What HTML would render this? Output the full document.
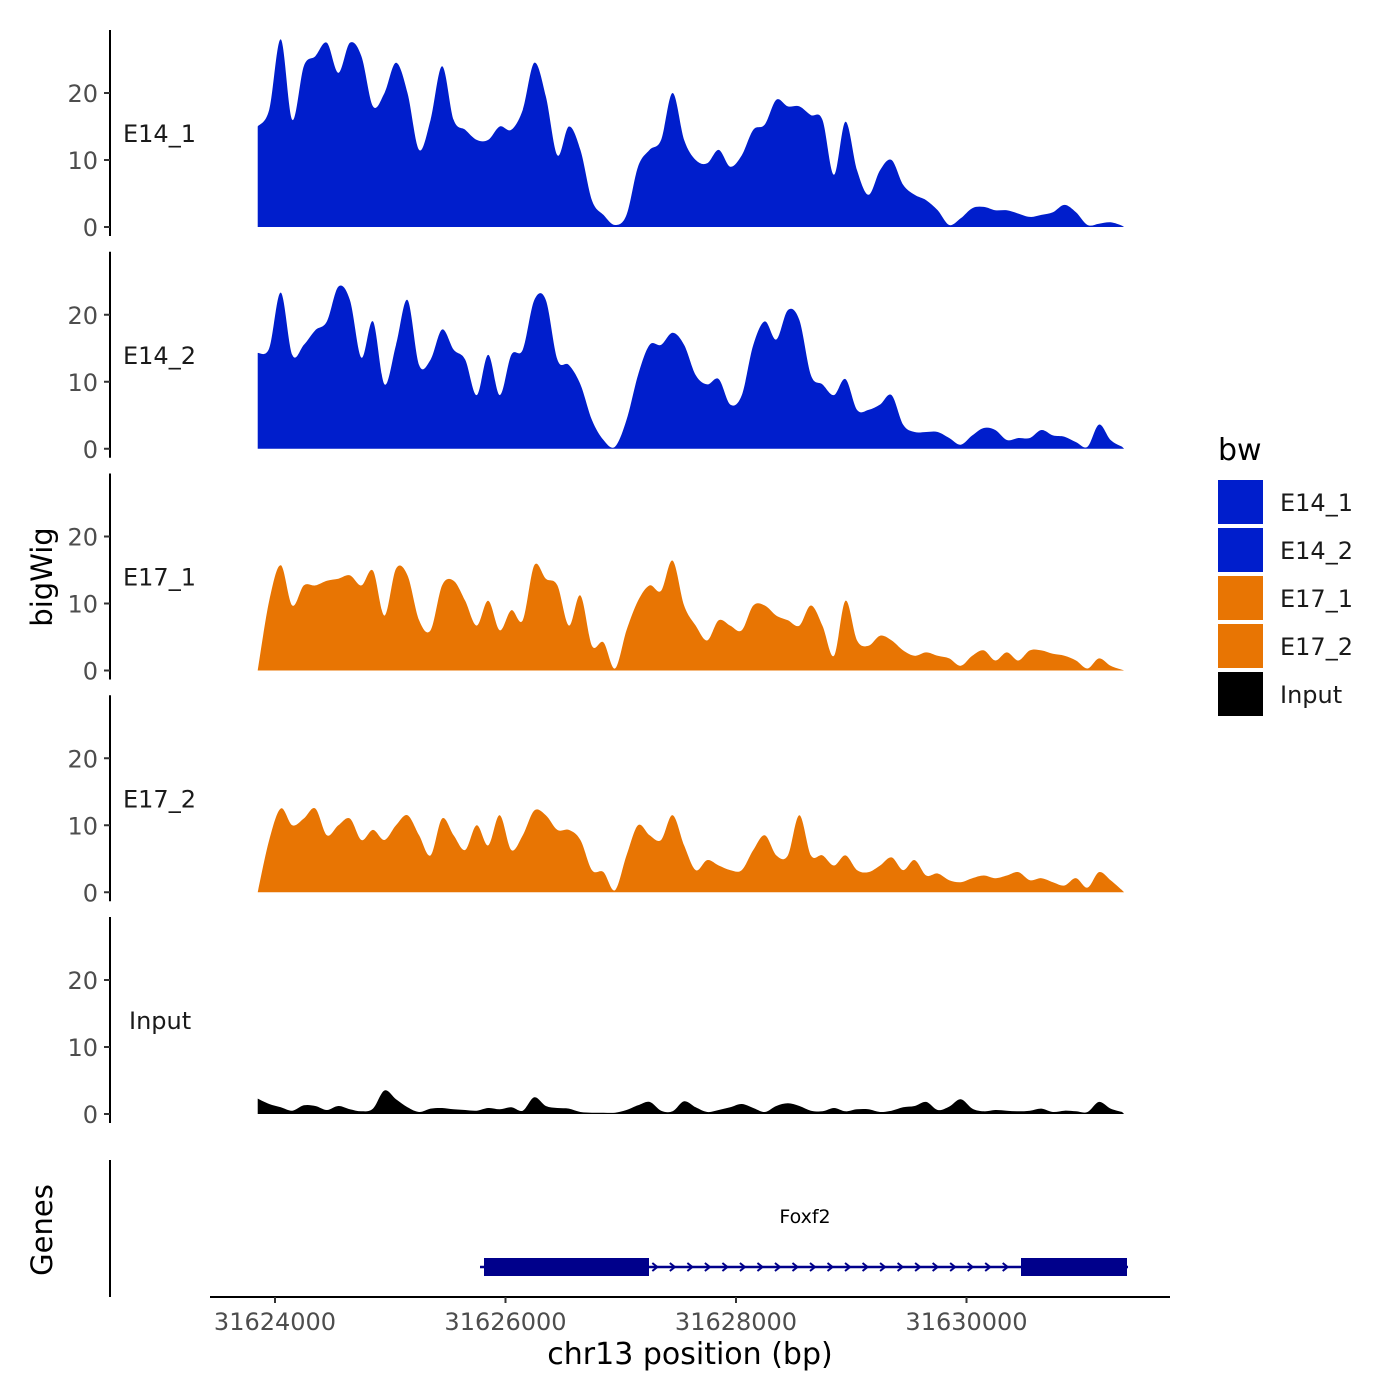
<!DOCTYPE html>
<html><head><meta charset="utf-8"><style>
body{margin:0;background:#fff}
svg{display:block;font-family:"DejaVu Sans","Liberation Sans",sans-serif}
</style></head><body>
<svg id="chart" width="1400" height="1400" viewBox="0 0 1400 1400">
<g id="panels"></g>
<g id="genes">
<line x1="110" y1="1160" x2="110" y2="1297" stroke="#000" stroke-width="2"/>
<text x="52" y="1230" font-size="29" text-anchor="middle" transform="rotate(-90 52 1230)">Genes</text>
<text x="805" y="1223" font-size="19" text-anchor="middle">Foxf2</text>
<line x1="480" y1="1267" x2="1128" y2="1267" stroke="#00008B" stroke-width="2.5"/>
<rect x="484" y="1258" width="165" height="18" fill="#00008B"/>
<rect x="1021" y="1258" width="106" height="18" fill="#00008B"/>
<g id="arrows"></g>
</g>
<g id="xaxis">
<line x1="210" y1="1297" x2="1170" y2="1297" stroke="#000" stroke-width="2"/>
</g>
<text x="690" y="1364" font-size="30" text-anchor="middle">chr13 position (bp)</text>
<text x="52" y="577" font-size="29" text-anchor="middle" transform="rotate(-90 52 577)">bigWig</text>
<g id="legend">
<text x="1218" y="460" font-size="30">bw</text>
</g>
</svg>
<script>
const NS="http://www.w3.org/2000/svg";
const seriesNames=["E14_1","E14_2","E17_1","E17_2","Input"];
const seriesColors=["#001ECC","#001ECC","#E87503","#E87503","#000000"];
const startBp=31623850, stepBp=100;
const xTicks=[31624000,31626000,31628000,31630000];
const yTicks=[0,10,20];
const e14_1=[15,17.5,28,16,24,25.5,27.5,23,27.5,25.5,18,20,24.5,20,11.5,16,24,16,14.5,13,13,15,14.5,17.5,24.5,19.5,10.7,15,11.5,4,1.8,0.3,1.8,9,11.5,13,20,13,10,9.5,11.5,9,10.7,14.5,15.3,19,18,18,16.7,16,7.8,15.7,8.5,4.8,8.5,10,6.3,4.8,4,2.5,0.3,1.3,2.8,3,2.5,2.5,2,1.5,1.8,2.2,3.3,2.2,0.3,0.5,0.7,0.2];
const e14_2=[14.3,15,23.3,14,15.5,17.7,19,24.2,22.2,13.6,19,9.6,15.5,22.2,12.5,13.3,17.8,14.8,13.3,8,14,8,14,14.8,22.2,22.2,13.3,12.5,9.6,4.3,1.3,0.3,4.3,11,15.5,15.5,17.3,15.5,11,9.6,10.4,6.6,8,15.5,19,16.3,20.7,19.2,11,9.6,8,10.4,5.8,5.8,6.6,8,3.6,2.5,2.5,2.5,1.6,0.6,2,3.1,2.8,1.3,1.6,1.6,2.8,2,1.8,1,0.3,3.6,1.3,0.3];
const e17_1=[0,10.4,15.7,9.7,12.7,12.7,13.4,13.7,14.2,12.7,14.9,8.2,15.2,14.2,7.5,6,12.7,13.4,10.4,6.7,10.4,6,9,7.5,15.7,13.7,12.7,6.7,11.2,3.7,4.2,0.3,6,10.4,12.7,11.9,16.4,9.7,6.7,4.5,7.5,6.7,6,9.7,9.7,8.2,7.5,6.7,9.7,6.7,2.2,10.4,4.5,3.7,5.2,4.5,3,2.2,2.7,2.2,1.8,0.7,2.2,3,1.5,2.7,1.5,3,3,2.5,2.2,1.5,0.3,1.8,0.7,0.1];
const e17_2=[0,7.8,12.5,10,11,12.5,8.5,10,11,7.8,9.3,7.8,10,11.5,8.5,5.5,11,8.5,6.3,10,7,11.5,6.3,8.5,12.2,11.5,9.3,9.3,7.8,3.3,3,0.3,5.5,10,8.5,7.8,11.5,7,3.3,4.8,4,3.3,3.3,6.3,8.5,5.5,5.5,11.5,5.5,5.5,4,5.5,3.3,3,4,5.2,3.3,4.8,2.5,2.8,1.8,1.5,2.1,2.5,2.1,2.5,3,1.8,2.1,1.5,1,2.1,0.7,3,1.8,0.3];
const input=[2.3,1.5,1,0.5,1.3,1.2,0.6,1.2,0.7,0.4,0.8,3.5,2.2,1,0.3,0.8,0.9,0.7,0.6,0.5,0.9,0.7,1,0.5,2.5,1.2,0.9,0.8,0.3,0.2,0.2,0.2,0.6,1.3,1.8,0.5,0.4,1.9,1,0.3,0.6,1,1.5,0.9,0.3,1.2,1.6,1.2,0.5,0.4,0.9,0.4,0.7,0.7,0.3,0.5,1,1.2,1.8,0.6,1.1,2.2,0.8,0.4,0.6,0.5,0.4,0.5,0.8,0.3,0.5,0.4,0.3,1.8,0.8,0.3];
const seriesData=[e14_1,e14_2,e17_1,e17_2,input];
const geneArrowStartBp=31627300, geneArrowEndBp=31630450, geneArrowStepBp=152;

function xScale(bp){return 275+(bp-31624000)*0.11525;}
function yScale(p,v){return 227+p*221.75-v*6.7;}

const panels=document.getElementById('panels');
function mk(tag,attrs,parent){const e=document.createElementNS(NS,tag);for(const k in attrs)e.setAttribute(k,attrs[k]);parent.appendChild(e);return e;}
function smoothPath(pts){
  let d="M"+pts[0][0]+","+pts[0][1];
  for(let i=0;i<pts.length-1;i++){
    const p0=pts[Math.max(0,i-1)],p1=pts[i],p2=pts[i+1],p3=pts[Math.min(pts.length-1,i+2)];
    const c1x=p1[0]+(p2[0]-p0[0])/6,c1y=p1[1]+(p2[1]-p0[1])/6;
    const c2x=p2[0]-(p3[0]-p1[0])/6,c2y=p2[1]-(p3[1]-p1[1])/6;
    d+=" C"+c1x.toFixed(1)+","+c1y.toFixed(1)+" "+c2x.toFixed(1)+","+c2y.toFixed(1)+" "+p2[0].toFixed(1)+","+p2[1].toFixed(1);
  }
  return d;
}
seriesNames.forEach((name,p)=>{
  const g=mk('g',{},panels);
  
  
  const top=30+p*221.75;
  const ax=mk('line',{x1:110,y1:top,x2:110,y2:top+206,stroke:'#000','stroke-width':2},g);
  
  
  yTicks.forEach(t=>{
    const y=yScale(p,t);
    const tk=mk('line',{x1:104,y1:y,x2:110,y2:y,stroke:'#333','stroke-width':2},g);
    
    
    const tl=mk('text',{x:98,y:y+9,'font-size':24,'text-anchor':'end',fill:'#4d4d4d'},g);
    tl.textContent=t;
    
    
  });
  const lab=mk('text',{x:name==='Input'?129:123,y:yScale(p,14)+9,'font-size':24,fill:'#1a1a1a'},g);
  lab.textContent=name;
  
  
  const vals=seriesData[p];
  const pts=vals.map((v,i)=>[xScale(startBp+i*stepBp),yScale(p,v)]);
  const x0=pts[0][0],xn=pts[pts.length-1][0]+2,y0=yScale(p,0);
  const d="M"+x0+","+y0+" L"+pts[0][0]+","+pts[0][1]+smoothPath(pts).replace(/^M[^ ]+/,"")+" L"+xn+","+y0+" Z";
  const area=mk('path',{d:d,fill:seriesColors[p]},g);
  
  
});
const xa=document.getElementById('xaxis');
xTicks.forEach(t=>{
  const x=xScale(t);
  const tk=mk('line',{x1:x,y1:1297,x2:x,y2:1303,stroke:'#333','stroke-width':2},xa);
  
  
  const tl=mk('text',{x:x,y:1330,'font-size':24,'text-anchor':'middle',fill:'#4d4d4d'},xa);
  tl.textContent=t;
  
  
});
const ar=document.getElementById('arrows');
for(let bp=geneArrowStartBp;bp<=geneArrowEndBp;bp+=geneArrowStepBp){
  const x=xScale(bp);
  const a=mk('path',{d:`M${x-3},${1263} L${x+2},${1267} L${x-3},${1271}`,fill:'none',stroke:'#00008B','stroke-width':2},ar);
  
  
}
const lg=document.getElementById('legend');
seriesNames.forEach((name,i)=>{
  const y=480+i*48;
  const r=mk('rect',{x:1218,y:y,width:45,height:44,fill:seriesColors[i]},lg);
  
  
  const t=mk('text',{x:1280,y:y+31,'font-size':24,fill:'#1a1a1a'},lg);
  t.textContent=name;
  
  
});
</script>
</body></html>
